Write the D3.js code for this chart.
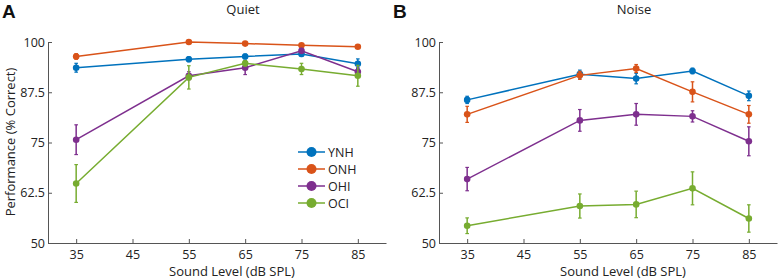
<!DOCTYPE html>
<html>
<head>
<meta charset="utf-8">
<script src="https://cdn.jsdelivr.net/npm/d3@7"></script>
<style>
    body { margin: 0; background: #fff; }
    text { font-family: "Open Sans", "Noto Sans", sans-serif; }
</style>
</head>
<body>
<div id="chart-container"></div>
<script>
// Sound levels (dB SPL)
var levels = [35, 55, 65, 75, 85];
var xTicks = [35, 45, 55, 65, 75, 85];
var yTicks = [50, 62.5, 75, 87.5, 100];
var groups = ["YNH", "ONH", "OHI", "OCI"];
var colors = ["#0072BD", "#D95319", "#7E2F8E", "#77AC30"];

// Quiet: mean % correct and error bar half-widths
var quietYNH = [93.6, 95.7, 96.4, 97.0, 94.6];
var quietONH = [96.4, 100.0, 99.6, 99.2, 98.8];
var quietOHI = [75.7, 91.6, 93.6, 97.8, 92.6];
var quietOCI = [64.8, 91.2, 94.7, 93.3, 91.6];
var quietErrYNH = [1.1, 0.6, 0.6, 0.6, 1.2];
var quietErrONH = [0.7, 0.4, 0.4, 0.4, 0.4];
var quietErrOHI = [3.7, 1.0, 1.7, 0.6, 1.0];
var quietErrOCI = [4.7, 2.9, 0.7, 1.4, 2.6];

// Noise
var noiseYNH = [85.6, 92.0, 90.9, 92.8, 86.6];
var noiseONH = [82.0, 91.7, 93.4, 87.6, 82.0];
var noiseOHI = [65.9, 80.5, 82.0, 81.5, 75.3];
var noiseOCI = [54.3, 59.2, 59.6, 63.6, 56.1];
var noiseErrYNH = [0.9, 1.0, 1.3, 0.7, 1.2];
var noiseErrONH = [2.0, 1.0, 1.0, 2.5, 2.2];
var noiseErrOHI = [2.9, 2.7, 2.7, 1.4, 3.6];
var noiseErrOCI = [1.95, 3.0, 3.3, 4.1, 3.4];

var width = 780, height = 280;
var svg = d3.select("#chart-container")
    .append("svg")
    .attr("width", width)
    .attr("height", height);

function drawPanel(opts) {
    var x = d3.scaleLinear().domain([30, 90]).range([opts.left, opts.left + 338]);
    var y = d3.scaleLinear().domain([50, 100]).range([243, 42]);
    var g = svg.append("g");

    // axes (MATLAB-like: ticks point inward)
    var xAxis = g.append("g")
        .attr("transform", "translate(0,243)")
        .call(d3.axisBottom(x).tickValues(xTicks).tickSizeInner(-4).tickSizeOuter(0).tickPadding(7));
    var yAxis = g.append("g")
        .attr("transform", "translate(" + opts.left + ",0)")
        .call(d3.axisLeft(y).tickValues(yTicks).tickSizeInner(-4).tickSizeOuter(0).tickPadding(3)
            .tickFormat(function (d) { return d; }));
    [xAxis, yAxis].forEach(function (a) {
        a.select(".domain").attr("stroke", "#555").attr("stroke-width", 1);
        a.selectAll(".tick line").attr("stroke", "#555");
        a.selectAll("text")
            .style("font-family", "'Open Sans', sans-serif")
            .style("font-size", "12.5px")
            .attr("fill", "#222");
    });

    opts.series.forEach(function (s, i) {
        var pts = levels.map(function (lv, j) {
            return { x: lv, y: s.values[j], e: s.err[j] };
        });
        var col = colors[i];
        g.append("path")
            .datum(pts)
            .attr("fill", "none")
            .attr("stroke", col)
            .attr("stroke-width", 1.5)
            .attr("d", d3.line().x(function (d) { return x(d.x); }).y(function (d) { return y(d.y); }));
        var eb = g.append("g").selectAll("g").data(pts).enter().append("g");
        eb.append("line")
            .attr("x1", function (d) { return x(d.x); })
            .attr("x2", function (d) { return x(d.x); })
            .attr("y1", function (d) { return y(d.y - d.e); })
            .attr("y2", function (d) { return y(d.y + d.e); })
            .attr("stroke", col).attr("stroke-width", 1.5);
        [-1, 1].forEach(function (sgn) {
            eb.append("line")
                .attr("x1", function (d) { return x(d.x) - 1.8; })
                .attr("x2", function (d) { return x(d.x) + 1.8; })
                .attr("y1", function (d) { return y(d.y + sgn * d.e); })
                .attr("y2", function (d) { return y(d.y + sgn * d.e); })
                .attr("stroke", col).attr("stroke-width", 1.2);
        });
        g.append("g").selectAll("circle").data(pts).enter().append("circle")
            .attr("cx", function (d) { return x(d.x); })
            .attr("cy", function (d) { return y(d.y); })
            .attr("r", 3.3)
            .attr("fill", col);
    });

    // title
    g.append("text")
        .attr("x", opts.left + 195)
        .attr("y", 14)
        .attr("text-anchor", "middle")
        .style("font-size", "13px")
        .attr("fill", "#222")
        .text(opts.title);
    // panel letter
    g.append("text")
        .attr("x", opts.left - 46)
        .attr("y", 18)
        .style("font-size", "19px")
        .style("font-weight", "bold")
        .style("font-family", "Arial, 'Liberation Sans', sans-serif")
        .attr("fill", "#111")
        .text(opts.letter);
    // x label
    g.append("text")
        .attr("x", opts.left + 184)
        .attr("y", 276)
        .attr("text-anchor", "middle")
        .style("font-size", "13px")
        .attr("fill", "#222")
        .text("Sound Level (dB SPL)");
}

drawPanel({
    left: 48, title: "Quiet", letter: "A",
    series: [
        { values: quietYNH, err: quietErrYNH },
        { values: quietONH, err: quietErrONH },
        { values: quietOHI, err: quietErrOHI },
        { values: quietOCI, err: quietErrOCI }
    ]
});
drawPanel({
    left: 439, title: "Noise", letter: "B",
    series: [
        { values: noiseYNH, err: noiseErrYNH },
        { values: noiseONH, err: noiseErrONH },
        { values: noiseOHI, err: noiseErrOHI },
        { values: noiseOCI, err: noiseErrOCI }
    ]
});

// y label
svg.append("text")
    .attr("transform", "translate(15,142)rotate(-90)")
    .attr("text-anchor", "middle")
    .style("font-size", "13px")
    .attr("fill", "#222")
    .text("Performance (% Correct)");

// legend
var legend = svg.append("g").attr("transform", "translate(298,152)");
var items = legend.selectAll("g").data(groups).enter().append("g")
    .attr("transform", function (d, i) { return "translate(0," + (i * 17) + ")"; });
items.append("line")
    .attr("x1", 0).attr("x2", 27)
    .attr("stroke", function (d, i) { return colors[i]; })
    .attr("stroke-width", 1.5);
items.append("circle")
    .attr("cx", 13.5).attr("r", 5)
    .attr("fill", function (d, i) { return colors[i]; });
items.append("text")
    .attr("x", 30).attr("y", 4.5)
    .style("font-size", "12.5px")
    .attr("fill", "#222")
    .text(function (d) { return d; });
</script>
</body>
</html>
